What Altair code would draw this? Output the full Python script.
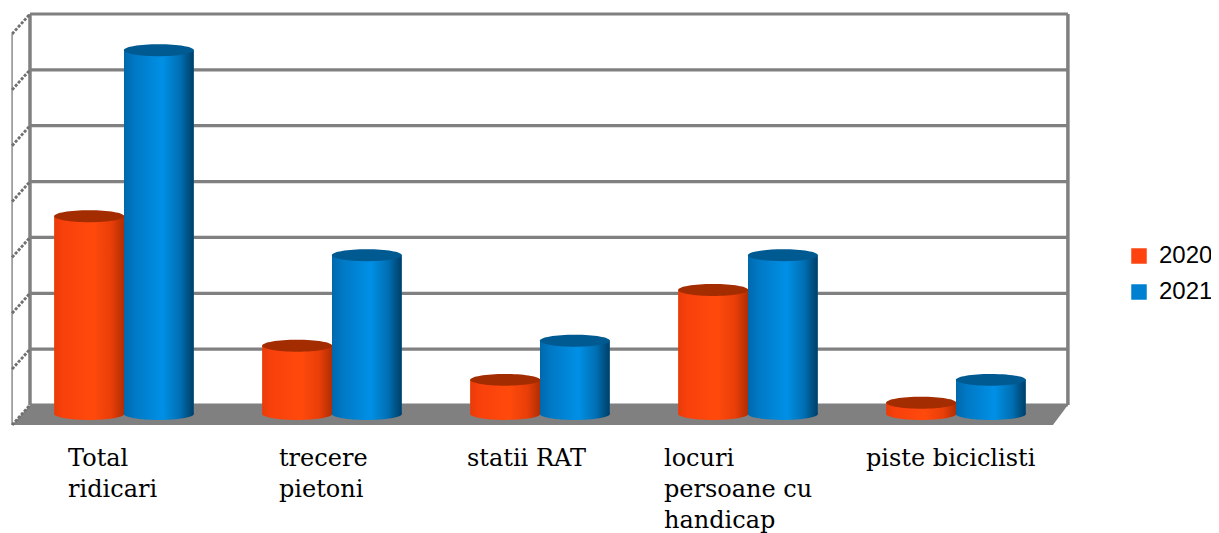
import altair as alt
import pandas as pd

CATEGORIES = ["Total ridicari", "trecere pietoni", "statii RAT", "locuri persoane cu handicap", "piste biciclisti"]
V2020 = [3.54, 1.22, 0.61, 2.22, 0.20]
V2021 = [6.51, 2.84, 1.31, 2.84, 0.61]
LABEL_LINES = [["Total", "ridicari"], ["trecere", "pietoni"], ["statii RAT"], ["locuri", "persoane cu", "handicap"], ["piste biciclisti"]]
LABEL_SHIFT = [-0.269, -0.255, -0.351, -0.404, -0.433]
GRID = list(range(8))
ORANGE, BLUE = "#ff4310", "#0080d0"

# layout of the fake 3-D box, in scale units
WALL_L, WALL_R, FRONT_L, FRONT_R, DEPTH, BASE = -0.452, 4.538, -0.538, 4.466, 0.358, 0.16
BAR_W = 0.335
ELLIPSE = "M -1 0 A 1 0.17 0 1 0 1 0 A 1 0.17 0 1 0 -1 0 Z"
ELL_SIZE = 4900
GREY = "#808080"

xs = alt.Scale(domain=[-0.5, 4.5], range=[12, 1052])
ys = alt.Scale(domain=[0, 7], range=[397, 6])
X = lambda f: alt.X(f, type="quantitative", scale=xs, axis=None)
Y = lambda f: alt.Y(f, type="quantitative", scale=ys, axis=None)

rows = []
for i, c in enumerate(CATEGORIES):
    for yr, v, x0 in (("2020", V2020[i], i - BAR_W), ("2021", V2021[i], i)):
        rows.append(dict(cat=c, year=yr, value=v, x0=x0, x1=x0 + BAR_W, xc=x0 + BAR_W / 2,
                         base=-BASE, top=v - BASE))
bars = pd.DataFrame(rows)

def grad(stops):
    return alt.LinearGradient(gradient="linear", x1=0, x2=1, y1=0, y2=0,
                              stops=[alt.GradientStop(offset=o, color=c) for o, c in stops])

G = {"2020": grad([(0, "#e83c08"), (0.12, "#f8400c"), (0.55, "#ff4a0c"), (0.82, "#e83e08"), (1, "#b02e04")]),
     "2021": grad([(0, "#0068ac"), (0.15, "#0078c4"), (0.55, "#0090e6"), (0.8, "#0070b4"), (1, "#003e68")])}
TOPC = {"2020": "#a32c00", "2021": "#005a92"}

grid_df = pd.DataFrame({"g": GRID, "l": WALL_L, "r": WALL_R})
grid = alt.Chart(grid_df).mark_rule(color=GREY, strokeWidth=3.2).encode(x=X("l"), x2="r", y=Y("g"))

floor_df = pd.DataFrame({"x": [FRONT_L, WALL_L, FRONT_R, WALL_R],
                         "t": [-DEPTH, 0, 0, 0], "b": [-DEPTH, -DEPTH, -DEPTH, 0]})
floor = alt.Chart(floor_df).mark_area(color=GREY).encode(x=X("x"), y=Y("t"), y2="b")

verts = pd.DataFrame({"x": [WALL_L, WALL_R], "a": [0, 0], "b": [7, 7]})
vert = alt.Chart(verts).mark_rule(color=GREY, strokeWidth=3.5).encode(x=X("x"), y=Y("a"), y2="b")
front = alt.Chart(pd.DataFrame({"x": [FRONT_L], "a": [-DEPTH], "b": [7 - DEPTH]})).mark_rule(
    color="#8c8c8c", strokeWidth=1.5).encode(x=X("x"), y=Y("a"), y2="b")

diag_rows = []
for g in GRID:
    diag_rows += [dict(g=g, x=WALL_L, y=g), dict(g=g, x=FRONT_L, y=g - DEPTH)]
diag = alt.Chart(pd.DataFrame(diag_rows)).mark_line(color="#707070", strokeWidth=2.8, strokeDash=[3, 1.5]).encode(
    x=X("x"), y=Y("y"), detail="g:N")

flat = alt.Chart(bars).mark_bar().encode(
    x=X("x0"), x2="x1", y=Y("base"), y2="top",
    color=alt.Color("year:N", scale=alt.Scale(domain=["2020", "2021"], range=[ORANGE, BLUE]),
                    legend=alt.Legend(title=None, orient="none", legendX=1119, legendY=236,
                                      symbolType="square", symbolSize=240, symbolStrokeWidth=0,
                                      labelFont="Liberation Sans", labelFontSize=24, labelColor="#000",
                                      rowPadding=12, labelOffset=8)))

layers = [grid, floor, vert, front, diag, flat]
for yr in ("2020", "2021"):
    d = bars[bars.year == yr]
    layers.append(alt.Chart(d).mark_point(shape=ELLIPSE, filled=True, size=ELL_SIZE, color=G[yr], opacity=1).encode(
        x=X("xc"), y=Y("base")))
    layers.append(alt.Chart(d).mark_bar(color=G[yr]).encode(x=X("x0"), x2="x1", y=Y("base"), y2="top"))
    layers.append(alt.Chart(d).mark_point(shape=ELLIPSE, filled=True, size=ELL_SIZE, color=TOPC[yr], opacity=1).encode(
        x=X("xc"), y=Y("top")))

lab_rows = []
for i, lines in enumerate(LABEL_LINES):
    for n, t in enumerate(lines):
        lab_rows.append(dict(t=t, x=i + LABEL_SHIFT[i], py=458 + 31 * n))
labels = alt.Chart(pd.DataFrame(lab_rows)).mark_text(
    align="left", baseline="alphabetic", font="DejaVu Serif", fontSize=24, color="#000").encode(
    x=X("x"), y=alt.Y("py:Q", scale=None), text="t:N")
layers.append(labels)

chart = alt.layer(*layers).properties(
    width=1203, height=525, padding=0, autosize=alt.AutoSizeParams(type="none"), background="white"
).configure_view(stroke=None)

chart.save("out.html", embed_options={"renderer": "svg", "actions": False})
